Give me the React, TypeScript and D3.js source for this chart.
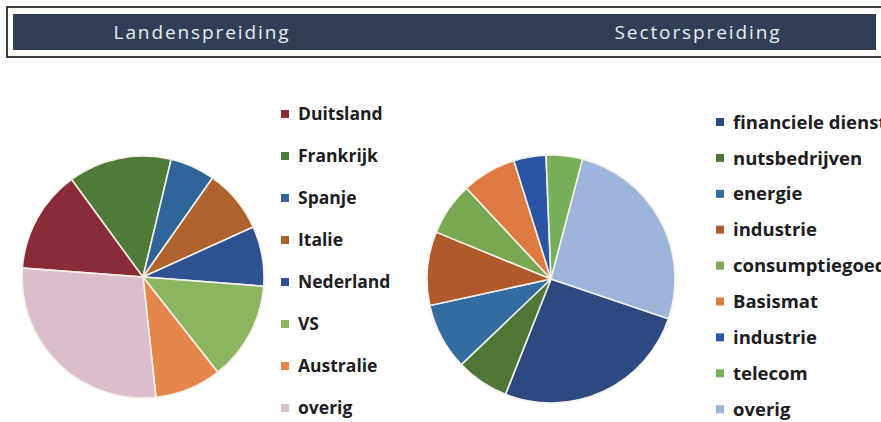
import React from "react";
import * as d3 from "d3";

const countryLabels = ["Duitsland", "Frankrijk", "Spanje", "Italie", "Nederland", "VS", "Australie", "overig"];
const countryValues = [13.8, 13.8, 6.0, 8.5, 8.0, 13.2, 8.9, 27.9];
const countryColors = ["#8a2c38", "#4f7a38", "#2f6598", "#b0622d", "#2e5192", "#8cb562", "#e6864a", "#dbbdcd"];

const sectorLabels = ["financiele diensten", "nutsbedrijven", "energie", "industrie", "consumptiegoederen", "Basismat", "industrie", "telecom", "overig"];
const sectorValues = [25.8, 6.9, 8.7, 9.6, 6.9, 7.1, 4.2, 4.75, 26.1];
const sectorColors = ["#2c4a80", "#4e7636", "#336ca1", "#b0592b", "#79a752", "#e07a43", "#2a55a4", "#78b05a", "#9db4da"];

const titles = ["Landenspreiding", "Sectorspreiding"];

function Pie({ values, colors, cx, cy, r, startDeg }: { values: number[]; colors: string[]; cx: number; cy: number; r: number; startDeg: number }) {
  const start = (startDeg * Math.PI) / 180;
  const pie = d3.pie<number>().sort(null).value((d) => d).startAngle(start).endAngle(start + 2 * Math.PI);
  const arc = d3.arc<d3.PieArcDatum<number>>().innerRadius(0).outerRadius(r);
  const arcs = pie(values);
  return (
    <g transform={`translate(${cx},${cy})`}>
      {arcs.map((a, i) => (
        <path key={i} d={arc(a) || ""} fill={colors[i]} stroke="#f4f1ea" strokeWidth={1.6} strokeLinejoin="round" />
      ))}
    </g>
  );
}

function Legend({ labels, colors, x, y0, step, size }: { labels: string[]; colors: string[]; x: number; y0: number; step: number; size: number }) {
  return (
    <g>
      {labels.map((l, i) => (
        <g key={i} transform={`translate(${x},${y0 + i * step})`}>
          <rect x={0} y={-4} width={8} height={8} fill={colors[i]} />
          <text x={17} y={0} dy="0.36em" fontFamily="'Open Sans', sans-serif" fontWeight={700} fontSize={size} fill="#1c1c22">
            {l}
          </text>
        </g>
      ))}
    </g>
  );
}

export default function App() {
  return (
    <svg width={881} height={422} style={{ position: "absolute", left: 0, top: 0, background: "#ffffff" }}>
      <rect x={7} y={7} width={880} height={50} fill="none" stroke="#111" strokeWidth={1.6} />
      <rect x={13} y={14} width={863} height={36} fill="#303f57" />
      <text x={202} y={32} dy="0.35em" textAnchor="middle" fontFamily="'Open Sans', sans-serif" fontSize={19} letterSpacing={1.9} fill="#e9edf2">
        {titles[0]}
      </text>
      <text x={698} y={32} dy="0.35em" textAnchor="middle" fontFamily="'Open Sans', sans-serif" fontSize={19} letterSpacing={1.9} fill="#e9edf2">
        {titles[1]}
      </text>
      <Pie values={countryValues} colors={countryColors} cx={143} cy={277} r={121} startDeg={-85.8} />
      <Pie values={sectorValues} colors={sectorColors} cx={551} cy={279} r={124} startDeg={108.7} />
      <Legend labels={countryLabels} colors={countryColors} x={281} y0={114} step={42} size={17.5} />
      <Legend labels={sectorLabels} colors={sectorColors} x={716} y0={122} step={35.9} size={18.5} />
    </svg>
  );
}
